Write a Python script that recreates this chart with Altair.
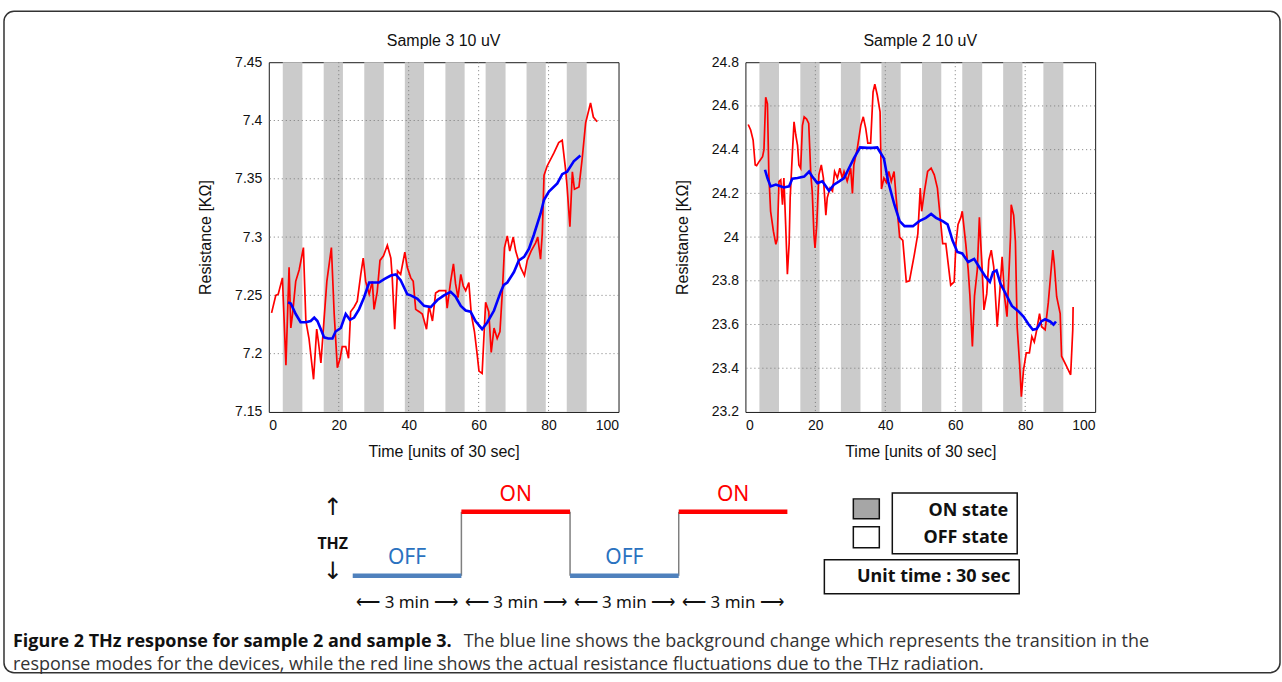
import altair as alt
import pandas as pd

# ---------------- shared axes / THz ON periods ----------------
on_start = [4.0, 15.7, 27.3, 38.9, 50.5, 62.0, 73.7, 85.2]
on_end = [9.6, 21.2, 32.9, 44.4, 56.0, 67.7, 79.2, 90.9]

time_ticks = [0, 20, 40, 60, 80, 100]
s3_ticks = [7.15, 7.2, 7.25, 7.3, 7.35, 7.4, 7.45]
s2_ticks = [23.2, 23.4, 23.6, 23.8, 24, 24.2, 24.4, 24.6, 24.8]

# ---------------- Sample 3 ----------------
s3_red_t = [0.8, 2.0, 2.7, 3.9, 4.9, 5.8, 6.3, 6.8, 7.7, 8.7,
            9.9, 10.6, 11.5, 12.8, 13.7, 14.2, 14.9, 15.6, 16.6, 17.9,
            18.7, 19.6, 20.4, 21.0, 22.0, 22.8, 23.4, 24.4, 25.3, 26.3,
            27.0, 27.7, 28.7, 29.6, 30.1, 31.0, 31.8, 32.8, 33.9, 34.9,
            35.3, 36.0, 36.8, 37.7, 38.9, 39.6, 40.6, 41.3, 42.0, 43.0,
            43.9, 45.1, 45.8, 46.8, 47.7, 48.7, 49.6, 50.6, 51.0, 52.0,
            52.8, 53.4, 54.1, 54.9, 55.6, 56.3, 57.2, 57.9, 58.8, 59.6,
            60.1, 61.0, 62.0, 62.9, 63.6, 64.4, 65.3, 66.1, 66.8, 67.4,
            68.2, 68.9, 69.9, 70.6, 72.0, 73.1, 73.9, 75.0, 76.3, 76.9,
            77.7, 78.2, 78.7, 79.6, 81.5, 82.9, 83.9, 84.9, 85.3, 86.1,
            86.8, 87.4, 88.7, 89.6, 90.6, 92.0, 92.8, 93.9]
s3_red_r = [7.235, 7.250, 7.251, 7.265, 7.190, 7.274, 7.222, 7.234, 7.262, 7.272,
            7.291, 7.228, 7.213, 7.178, 7.221, 7.210, 7.192, 7.221, 7.262, 7.291,
            7.234, 7.188, 7.196, 7.206, 7.206, 7.196, 7.236, 7.240, 7.245, 7.268,
            7.282, 7.262, 7.251, 7.262, 7.238, 7.253, 7.280, 7.284, 7.293, 7.282,
            7.265, 7.221, 7.271, 7.268, 7.287, 7.274, 7.265, 7.262, 7.238, 7.236,
            7.234, 7.221, 7.241, 7.228, 7.252, 7.254, 7.254, 7.254, 7.239, 7.262,
            7.277, 7.260, 7.248, 7.268, 7.258, 7.254, 7.261, 7.234, 7.219, 7.199,
            7.185, 7.183, 7.244, 7.236, 7.201, 7.222, 7.213, 7.219, 7.254, 7.291,
            7.301, 7.288, 7.300, 7.288, 7.274, 7.267, 7.280, 7.288, 7.295, 7.300,
            7.281, 7.303, 7.353, 7.361, 7.372, 7.381, 7.383, 7.357, 7.343, 7.309,
            7.356, 7.341, 7.343, 7.367, 7.398, 7.415, 7.403, 7.399]
s3_blue_t = [5.5, 6.3, 7.7, 9.1, 10.6, 12.0, 13.0, 13.9, 15.0, 15.8,
             17.0, 18.2, 19.1, 20.6, 22.0, 23.2, 24.4, 25.8, 27.2, 28.7,
             30.1, 31.5, 33.0, 34.9, 36.3, 37.7, 39.6, 40.6, 42.5, 44.4,
             46.3, 48.2, 50.1, 52.0, 53.4, 54.9, 56.3, 57.7, 59.1, 61.0,
             62.5, 64.4, 66.3, 67.2, 68.2, 70.1, 71.5, 73.0, 74.4, 75.8,
             77.7, 78.7, 80.1, 82.5, 83.9, 85.3, 87.2, 89.1]
s3_blue_r = [7.244, 7.243, 7.234, 7.227, 7.227, 7.228, 7.231, 7.228, 7.220, 7.214,
             7.213, 7.213, 7.219, 7.222, 7.234, 7.229, 7.231, 7.238, 7.248, 7.261,
             7.261, 7.261, 7.264, 7.267, 7.268, 7.263, 7.251, 7.250, 7.247, 7.241,
             7.240, 7.246, 7.250, 7.253, 7.249, 7.241, 7.237, 7.236, 7.228, 7.221,
             7.227, 7.237, 7.253, 7.259, 7.261, 7.270, 7.280, 7.283, 7.290, 7.302,
             7.320, 7.332, 7.339, 7.346, 7.354, 7.356, 7.365, 7.370]

# ---------------- Sample 2 ----------------
s2_red_t = [0.8, 1.5, 2.2, 2.8, 3.2, 3.9, 4.9, 5.3, 5.8, 6.3,
            6.7, 7.2, 8.0, 8.7, 9.1, 9.6, 10.1, 10.6, 11.0, 11.5,
            12.0, 12.5, 12.8, 13.4, 13.9, 14.4, 14.9, 15.3, 15.8, 16.3,
            16.8, 17.5, 18.1, 18.7, 19.1, 19.6, 19.9, 20.4, 21.0, 21.7,
            22.3, 23.0, 23.4, 24.2, 24.9, 25.5, 26.3, 27.0, 27.7, 28.2,
            29.1, 30.1, 30.6, 31.0, 32.0, 33.0, 33.7, 34.4, 35.0, 35.8,
            36.5, 37.0, 37.7, 38.5, 38.9, 39.6, 40.3, 41.0, 41.7, 42.5,
            43.1, 44.1, 45.0, 46.0, 46.9, 48.3, 49.3, 50.0, 50.4, 51.2,
            52.1, 53.1, 54.0, 54.9, 55.7, 56.4, 57.3, 58.7, 59.7, 60.2,
            60.8, 61.6, 62.0, 63.0, 63.7, 64.2, 64.9, 65.5, 66.3, 66.9,
            67.7, 68.2, 69.0, 69.6, 70.3, 71.0, 72.0, 72.7, 73.4, 74.1,
            74.8, 75.8, 76.0, 76.7, 77.2, 77.7, 78.4, 78.9, 79.5, 80.3,
            81.2, 81.9, 82.6, 83.3, 84.1, 84.7, 85.7, 86.6, 87.3, 87.9,
            88.3, 89.0, 90.0, 90.4, 91.8, 93.0, 93.6, 93.7]
s2_red_r = [24.515, 24.49, 24.444, 24.33, 24.327, 24.345, 24.368, 24.40, 24.64, 24.61,
            24.285, 24.118, 24.027, 23.967, 23.99, 24.255, 24.262, 24.148, 24.27, 24.06,
            23.83, 23.97, 24.18, 24.376, 24.527, 24.467, 24.42, 24.33, 24.315, 24.51,
            24.55, 24.54, 24.52, 24.285, 24.21, 24.01, 23.95, 24.057, 24.285, 24.33,
            24.27, 24.10, 24.18, 24.224, 24.21, 24.30, 24.27, 24.315, 24.27, 24.30,
            24.255, 24.315, 24.20, 24.33, 24.406, 24.512, 24.55, 24.497, 24.43, 24.43,
            24.664, 24.70, 24.65, 24.573, 24.22, 24.27, 24.25, 24.30, 24.255, 24.30,
            24.18, 24.00, 23.985, 23.795, 23.80, 23.92, 24.015, 24.224, 24.118, 24.21,
            24.30, 24.315, 24.285, 24.224, 24.09, 23.97, 23.97, 23.78, 23.795, 23.97,
            24.058, 24.09, 24.118, 23.97, 23.85, 23.73, 23.50, 23.73, 23.85, 24.09,
            23.85, 23.667, 23.74, 23.894, 23.94, 23.864, 23.59, 23.74, 23.91, 23.727,
            23.636, 24.00, 24.148, 24.10, 23.98, 23.59, 23.42, 23.27, 23.39, 23.47,
            23.47, 23.545, 23.52, 23.576, 23.65, 23.59, 23.576, 23.70, 23.83, 23.94,
            23.88, 23.727, 23.65, 23.455, 23.41, 23.37, 23.576, 23.68]
s2_blue_t = [5.6, 6.3, 7.2, 8.7, 9.6, 11.0, 12.5, 13.4, 14.9, 16.8,
             18.2, 19.1, 20.6, 22.0, 23.9, 25.3, 26.8, 28.2, 29.6, 31.0,
             32.8, 34.9, 36.3, 37.7, 39.6, 40.8, 42.6, 44.1, 45.5, 47.9,
             49.7, 51.6, 53.1, 54.5, 56.4, 57.8, 58.7, 59.2, 60.6, 62.0,
             63.7, 65.4, 66.8, 68.7, 69.9, 70.8, 71.8, 72.9, 74.6, 76.2,
             78.1, 79.5, 81.0, 82.2, 83.3, 84.6, 85.7, 87.1, 88.1, 88.8]
s2_blue_r = [24.308, 24.27, 24.232, 24.24, 24.235, 24.227, 24.232, 24.267, 24.27, 24.277,
             24.30, 24.277, 24.247, 24.255, 24.212, 24.24, 24.255, 24.27, 24.315, 24.36,
             24.41, 24.408, 24.408, 24.41, 24.36, 24.255, 24.148, 24.073, 24.05, 24.05,
             24.073, 24.088, 24.106, 24.088, 24.073, 24.058, 24.012, 23.985, 23.932, 23.925,
             23.886, 23.90, 23.864, 23.818, 23.795, 23.84, 23.848, 23.788, 23.735, 23.685,
             23.66, 23.636, 23.60, 23.576, 23.58, 23.614, 23.624, 23.614, 23.60, 23.614]

# ---------------- THz switching scheme (minutes) ----------------
phase_start = [0, 3, 6, 9]
phase_end = [3, 6, 9, 12]
phase_state = ["OFF", "ON", "OFF", "ON"]
phase_level = [0, 1, 0, 1]
switch_at = [3, 6, 9]

PW, PH = 350, 350
PLOT_FONT = "Liberation Sans"
DIAG_FONT = "Noto Sans"
CAP_FONT = "Open Sans"
ONE = pd.DataFrame({"k": [0]})


def label(text, x, y, size, weight="normal", color="#111", align="center", font=DIAG_FONT):
    return alt.Chart(ONE).mark_text(text=text, fontSize=size, fontWeight=weight, color=color,
                                    align=align, baseline="middle", font=font).encode(
        x=alt.value(x), y=alt.value(y))


def box(x1, x2, y1, y2, fill="white", stroke="#111", width=1.5, radius=0):
    return alt.Chart(ONE).mark_rect(fill=fill, stroke=stroke, strokeWidth=width,
                                    cornerRadius=radius).encode(
        x=alt.value(x1), x2=alt.value(x2), y=alt.value(y1), y2=alt.value(y2))


def panel(title, red_t, red_r, blue_t, blue_r, ticks, ydomain):
    bands = pd.DataFrame({"start": on_start, "end": on_end})
    red = pd.DataFrame({"t": red_t, "r": red_r})
    blue = pd.DataFrame({"t": blue_t, "r": blue_r})
    xgrid = pd.DataFrame({"t": time_ticks[1:-1]})
    ygrid = pd.DataFrame({"r": ticks[1:-1]})

    xs = alt.Scale(domain=[0, 100], nice=False, zero=False)
    ys = alt.Scale(domain=ydomain, nice=False, zero=False)
    xa = alt.Axis(values=time_ticks, title="Time [units of 30 sec]", grid=False,
                  ticks=False, domain=False, labelPadding=7, titlePadding=11)
    ya = alt.Axis(values=ticks, title="Resistance [KΩ]", grid=False, ticks=False,
                  domain=False, labelExpr="datum.value + ''", labelPadding=7,
                  titlePadding=21)

    band_layer = alt.Chart(bands).mark_rect(color="#cbcbcb").encode(
        x=alt.X("start:Q", scale=xs, axis=xa), x2="end:Q",
        y=alt.value(0), y2=alt.value(PH))
    xg = alt.Chart(xgrid).mark_rule(color="#7a7a7a", strokeDash=[1, 3], strokeWidth=1).encode(
        x=alt.X("t:Q", scale=xs, axis=xa))
    yg = alt.Chart(ygrid).mark_rule(color="#7a7a7a", strokeDash=[1, 3], strokeWidth=1).encode(
        y=alt.Y("r:Q", scale=ys, axis=ya))
    red_line = alt.Chart(red).mark_line(color="#ff0000", strokeWidth=1.7).encode(
        x=alt.X("t:Q", scale=xs, axis=xa), y=alt.Y("r:Q", scale=ys, axis=ya))
    blue_line = alt.Chart(blue).mark_line(color="#0000ff", strokeWidth=2.6).encode(
        x=alt.X("t:Q", scale=xs, axis=xa), y=alt.Y("r:Q", scale=ys, axis=ya))
    heading = label(title, PW / 2, -21, 16, font=PLOT_FONT)
    return alt.layer(band_layer, xg, yg, red_line, blue_line, heading)


def scheme():
    phases = pd.DataFrame({"start": phase_start, "end": phase_end,
                           "state": phase_state, "level": phase_level})
    switches = pd.DataFrame({"m": switch_at})
    mx = alt.Scale(domain=[0, 12], range=[84, 519])
    my = alt.Scale(domain=[0, 1], range=[514, 450])
    state_colors = alt.Scale(domain=["ON", "OFF"], range=["#ff0000", "#4f81bd"])

    connectors = alt.Chart(switches).transform_calculate(lo="0", hi="1").mark_rule(
        color="#7f7f7f", strokeWidth=1.5).encode(
        x=alt.X("m:Q", scale=mx, axis=None),
        y=alt.Y("lo:Q", scale=my, axis=None), y2="hi:Q")
    segments = alt.Chart(phases).mark_rule(strokeWidth=4.5).encode(
        x=alt.X("start:Q", scale=mx, axis=None), x2="end:Q",
        y=alt.Y("level:Q", scale=my, axis=None),
        color=alt.Color("state:N", scale=state_colors, legend=None))
    on_text = alt.Chart(phases).transform_filter("datum.state == 'ON'").transform_calculate(
        mid="(datum.start + datum.end) / 2").mark_text(
        fontSize=21, dy=-17, color="#ff0000", font=DIAG_FONT).encode(
        x=alt.X("mid:Q", scale=mx, axis=None), y=alt.Y("level:Q", scale=my, axis=None),
        text="state:N")
    off_text = alt.Chart(phases).transform_filter("datum.state == 'OFF'").transform_calculate(
        mid="(datum.start + datum.end) / 2").mark_text(
        fontSize=21, dy=-18, color="#2a72c0", font=DIAG_FONT).encode(
        x=alt.X("mid:Q", scale=mx, axis=None), y=alt.Y("level:Q", scale=my, axis=None),
        text="state:N")
    durations = alt.Chart(phases).transform_calculate(
        mid="(datum.start + datum.end) / 2",
        txt="'⟵ ' + (datum.end - datum.start) + ' min ⟶'").mark_text(
        fontSize=17, color="#111", font=DIAG_FONT).encode(
        x=alt.X("mid:Q", scale=mx, axis=None), y=alt.value(541), text="txt:N")

    thz = [label("↑", 64, 446, 24, font="DejaVu Sans"),
           label("THZ", 64, 482, 16, weight="bold"),
           label("↓", 64, 510, 24, font="DejaVu Sans")]

    legend = [box(585, 611, 437, 457, fill="#a6a6a6"),
              box(585, 611, 465, 486),
              box(624, 749, 431, 492, fill="transparent"),
              label("ON state", 740, 449, 18, weight="bold", align="right"),
              label("OFF state", 740, 476, 18, weight="bold", align="right"),
              box(556, 751, 498, 532, fill="transparent"),
              label("Unit time : 30 sec", 742, 515, 18, weight="bold", align="right")]

    caption = [label("Figure 2 THz response for sample 2 and sample 3.", -256, 580, 18,
                     weight="bold", color="#111", align="left", font=CAP_FONT),
               label("The blue line shows the background change which represents the transition in the",
                     195, 580, 18, color="#333", align="left", font=CAP_FONT),
               label("response modes for the devices, while the red line shows the actual resistance "
                     "fluctuations due to the THz radiation.",
                     -256, 603, 18, color="#333", align="left", font=CAP_FONT)]

    frame = box(-265, 1012, -51, 611, fill="transparent", stroke="#333", width=1.5, radius=10)

    return alt.layer(frame, connectors, segments, on_text, off_text, durations,
                     *thz, *legend, *caption)


left = alt.layer(
    panel("Sample 3 10 uV", s3_red_t, s3_red_r, s3_blue_t, s3_blue_r, s3_ticks, [7.15, 7.45]),
    scheme()
).resolve_scale(x="independent", y="independent").properties(width=PW, height=PH)

right = panel("Sample 2  10 uV", s2_red_t, s2_red_r, s2_blue_t, s2_blue_r, s2_ticks,
              [23.2, 24.8]).properties(width=PW, height=PH)

chart = alt.hconcat(left, right, spacing=127, bounds="flush").properties(
    padding={"left": 2, "top": 9, "right": 0, "bottom": 2}
).configure_view(stroke="#1a1a1a", strokeWidth=1).configure_axis(
    labelFont=PLOT_FONT, labelFontSize=14, labelColor="#111",
    titleFont=PLOT_FONT, titleFontSize=16, titleFontWeight="normal", titleColor="#111"
)

chart.save("out.html", embed_options={"renderer": "svg", "actions": False})
